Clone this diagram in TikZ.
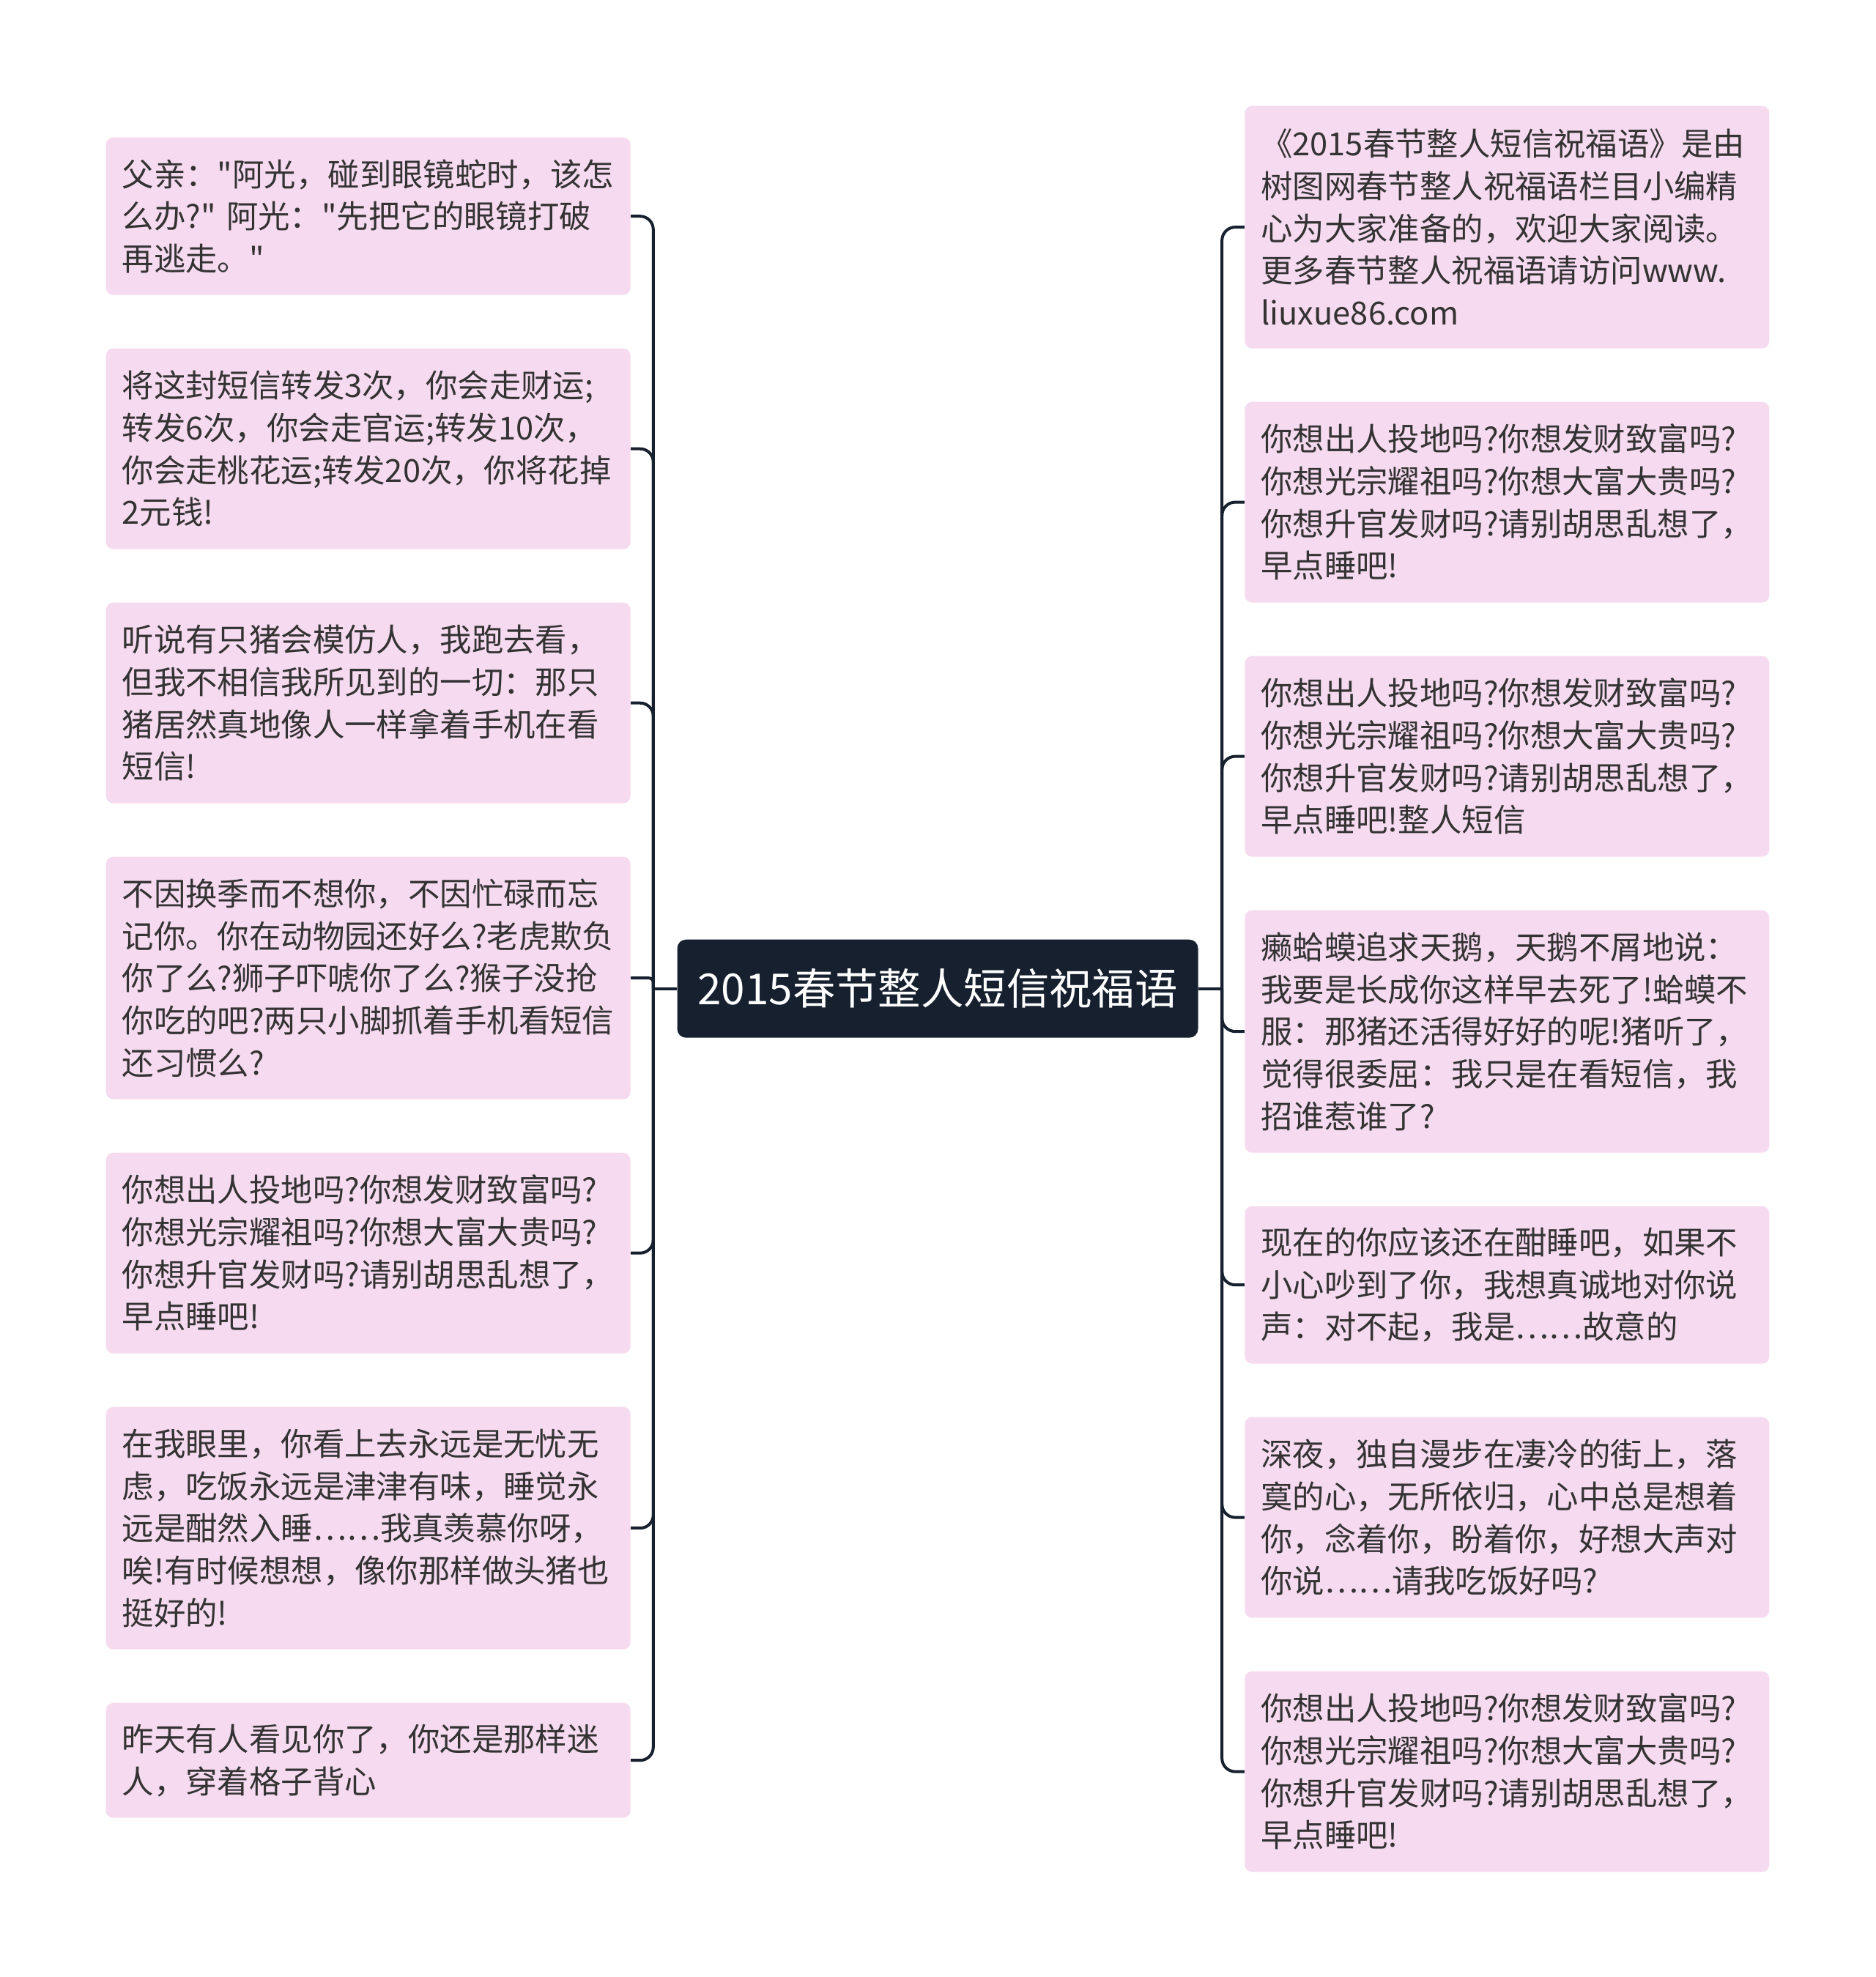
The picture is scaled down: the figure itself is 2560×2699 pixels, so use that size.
\documentclass[tikz,border=0pt]{standalone}
\usepackage{fontspec}
\newfontfamily\cjk{Noto Sans CJK SC}
\definecolor{leafpink}{RGB}{246,218,240}
\definecolor{leaftext}{RGB}{51,51,51}
\definecolor{rootbg}{RGB}{22,32,46}
\definecolor{linecol}{RGB}{22,32,46}
\tikzset{
  leaf/.style={rectangle, rounded corners=5pt, fill=leafpink, text=leaftext,
    font=\cjk\fontsize{21.7pt}{28.85pt}\selectfont, text width=336pt,
    inner xsep=11pt, inner ysep=0pt, align=left},
  rootnode/.style={rectangle, rounded corners=6pt, fill=rootbg, text=white,
    font=\cjk\fontsize{29.2pt}{35pt}\selectfont, minimum width=355.5pt,
    minimum height=67pt, inner sep=0pt},
  conn/.style={draw=linecol, line width=2pt},
  elbow/.style={conn, rounded corners=9pt},
  h2/.style={minimum height=78.5pt},
  h3/.style={minimum height=107.5pt},
  h4/.style={minimum height=137pt},
  h5/.style={minimum height=165.5pt}
}
\begin{document}
\begin{tikzpicture}[x=0.5pt,y=-0.5pt]
\fill[white] (0,0) rectangle (2560,2699);
\useasboundingbox (0,0) rectangle (2560,2699);

\node[rootnode] (c) at (1280,1349.7) {2015春节整人短信祝福语};

% left column
\node[leaf,h3] (L1) at (502.7,295.2) {父亲："阿光，碰到眼镜蛇时，该怎\\么办?"~阿光："先把它的眼镜打破\\再逃走。"};
\node[leaf,h4] (L2) at (502.7,612.7) {将这封短信转发3次，你会走财运;\\转发6次，你会走官运;转发10次，\\你会走桃花运;转发20次，你将花掉\\2元钱!};
\node[leaf,h4] (L3) at (502.7,959.7) {听说有只猪会模仿人，我跑去看，\\但我不相信我所见到的一切：那只\\猪居然真地像人一样拿着手机在看\\短信!};
\node[leaf,h5] (L4) at (502.7,1335.2) {不因换季而不想你，不因忙碌而忘\\记你。你在动物园还好么?老虎欺负\\你了么?狮子吓唬你了么?猴子没抢\\你吃的吧?两只小脚抓着手机看短信\\还习惯么?};
\node[leaf,h4] (L5) at (502.7,1710.7) {你想出人投地吗?你想发财致富吗?\\你想光宗耀祖吗?你想大富大贵吗?\\你想升官发财吗?请别胡思乱想了，\\早点睡吧!};
\node[leaf,h5] (L6) at (502.7,2086.2) {在我眼里，你看上去永远是无忧无\\虑，吃饭永远是津津有味，睡觉永\\远是酣然入睡……我真羡慕你呀，\\唉!有时候想想，像你那样做头猪也\\挺好的!};
\node[leaf,h2] (L7) at (502.7,2403.2) {昨天有人看见你了，你还是那样迷\\人，穿着格子背心};

% right column
\node[leaf,h5] (R1) at (2057.3,310.1) {《2015春节整人短信祝福语》是由\\树图网春节整人祝福语栏目小编精\\心为大家准备的，欢迎大家阅读。\\更多春节整人祝福语请访问www.\\liuxue86.com};
\node[leaf,h4] (R2) at (2057.3,685.6) {你想出人投地吗?你想发财致富吗?\\你想光宗耀祖吗?你想大富大贵吗?\\你想升官发财吗?请别胡思乱想了，\\早点睡吧!};
\node[leaf,h4] (R3) at (2057.3,1032.6) {你想出人投地吗?你想发财致富吗?\\你想光宗耀祖吗?你想大富大贵吗?\\你想升官发财吗?请别胡思乱想了，\\早点睡吧!整人短信};
\node[leaf,h5] (R4) at (2057.3,1408.1) {癞蛤蟆追求天鹅，天鹅不屑地说：\\我要是长成你这样早去死了!蛤蟆不\\服：那猪还活得好好的呢!猪听了，\\觉得很委屈：我只是在看短信，我\\招谁惹谁了?};
\node[leaf,h3] (R5) at (2057.3,1754.1) {现在的你应该还在酣睡吧，如果不\\小心吵到了你，我想真诚地对你说\\声：对不起，我是……故意的};
\node[leaf,h4] (R6) at (2057.3,2071.6) {深夜，独自漫步在凄冷的街上，落\\寞的心，无所依归，心中总是想着\\你，念着你，盼着你，好想大声对\\你说……请我吃饭好吗?};
\node[leaf,h4] (R7) at (2057.3,2418.6) {你想出人投地吗?你想发财致富吗?\\你想光宗耀祖吗?你想大富大贵吗?\\你想升官发财吗?请别胡思乱想了，\\早点睡吧!};

% trunks
\coordinate (LT) at (891.8,1349.7);
\coordinate (RT) at (1668.2,1349.7);
\draw[conn] (c.west) -- (LT);
\draw[conn] (c.east) -- (RT);

\foreach \n in {L1,L2,L3,L5,L6,L7} {\draw[elbow] (LT) |- (\n.east);}
\draw[conn, rounded corners=3pt] (LT) |- (L4.east);
\foreach \n in {R1,R2,R3,R4,R5,R6,R7} {\draw[elbow] (RT) |- (\n.west);}
\end{tikzpicture}
\end{document}
